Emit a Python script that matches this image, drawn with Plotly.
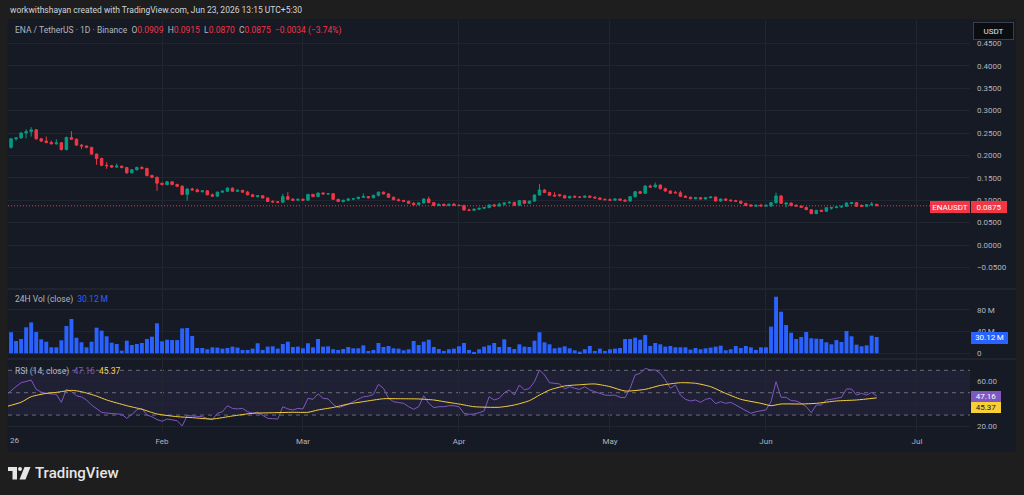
import plotly.graph_objects as go
import pandas as pd

# ---------------- data ----------------
opens = [0.197,0.218,0.237,0.239,0.250,0.253,0.257,0.237,0.232,0.229,
         0.226,0.228,0.213,0.240,0.236,0.223,0.221,0.218,0.203,0.193,
         0.178,0.177,0.174,0.176,0.173,0.161,0.168,0.173,0.171,0.155,
         0.151,0.138,0.135,0.141,0.135,0.131,0.113,0.125,0.123,0.119,
         0.121,0.112,0.109,0.118,0.120,0.127,0.120,0.122,0.118,0.112,
         0.108,0.110,0.105,0.097,0.096,0.0955,0.108,0.102,0.100,0.102,
         0.100,0.113,0.108,0.116,0.114,0.1145,0.102,0.097,0.100,0.1025,
         0.1035,0.1065,0.108,0.1055,0.111,0.118,0.114,0.1065,0.101,0.099,
         0.0975,0.093,0.090,0.094,0.1027,0.0945,0.088,0.091,0.088,0.091,
         0.0885,0.088,0.078,0.0775,0.080,0.082,0.0835,0.0895,0.087,0.091,
         0.094,0.095,0.0886,0.099,0.093,0.098,0.1116,0.1228,0.117,0.111,
         0.1125,0.110,0.105,0.1085,0.107,0.1065,0.109,0.1065,0.105,0.102,
         0.101,0.100,0.1027,0.100,0.098,0.108,0.119,0.1155,0.1317,0.1295,
         0.134,0.1257,0.1205,0.1175,0.1165,0.1087,0.1065,0.1034,0.1056,0.1027,
         0.1056,0.1071,0.0982,0.1027,0.1000,0.0988,0.0978,0.093,0.0895,0.0866,
         0.0886,0.0870,0.0872,0.0945,0.1094,0.0915,0.0935,0.0885,0.087,0.084,
         0.0788,0.070,0.0774,0.0752,0.0820,0.0838,0.0848,0.0864,0.0928,0.0945,
         0.0880,0.0865,0.0895,0.0909]
highs = [0.221,0.239,0.241,0.252,0.258,0.263,0.259,0.239,0.242,0.233,
         0.236,0.230,0.242,0.254,0.238,0.225,0.222,0.219,0.204,0.195,
         0.185,0.179,0.182,0.177,0.174,0.169,0.175,0.176,0.172,0.157,
         0.153,0.139,0.143,0.142,0.137,0.134,0.127,0.128,0.126,0.122,
         0.122,0.115,0.119,0.122,0.129,0.128,0.124,0.123,0.121,0.114,
         0.111,0.111,0.106,0.100,0.098,0.114,0.118,0.105,0.103,0.104,
         0.114,0.114,0.117,0.118,0.116,0.116,0.103,0.101,0.105,0.105,
         0.108,0.115,0.109,0.112,0.119,0.119,0.116,0.108,0.104,0.101,
         0.099,0.096,0.095,0.104,0.108,0.096,0.092,0.092,0.092,0.094,
         0.091,0.090,0.081,0.081,0.083,0.085,0.090,0.092,0.0945,0.095,
         0.098,0.097,0.100,0.100,0.099,0.113,0.136,0.125,0.119,0.118,
         0.114,0.112,0.110,0.111,0.109,0.110,0.111,0.109,0.106,0.104,
         0.104,0.104,0.104,0.103,0.109,0.120,0.121,0.133,0.135,0.1395,
         0.135,0.128,0.122,0.121,0.121,0.111,0.108,0.107,0.107,0.107,
         0.1094,0.108,0.104,0.104,0.102,0.101,0.099,0.094,0.091,0.090,
         0.092,0.090,0.096,0.1168,0.112,0.095,0.095,0.091,0.088,0.085,
         0.080,0.078,0.079,0.084,0.084,0.086,0.088,0.095,0.096,0.096,
         0.091,0.091,0.096,0.0915]
lows = [0.194,0.215,0.233,0.237,0.238,0.242,0.235,0.230,0.227,0.224,
        0.224,0.211,0.211,0.234,0.221,0.214,0.216,0.201,0.179,0.176,
        0.170,0.172,0.172,0.171,0.159,0.160,0.166,0.169,0.153,0.149,
        0.121,0.133,0.133,0.133,0.129,0.111,0.099,0.122,0.118,0.117,
        0.111,0.108,0.108,0.117,0.118,0.119,0.118,0.117,0.111,0.107,
        0.106,0.104,0.096,0.095,0.094,0.095,0.101,0.099,0.099,0.099,
        0.099,0.107,0.107,0.113,0.112,0.101,0.096,0.095,0.098,0.100,
        0.102,0.105,0.104,0.104,0.108,0.113,0.105,0.100,0.098,0.097,
        0.092,0.089,0.089,0.092,0.094,0.087,0.087,0.087,0.087,0.088,
        0.087,0.077,0.076,0.076,0.078,0.080,0.082,0.086,0.086,0.088,
        0.092,0.088,0.088,0.092,0.092,0.097,0.110,0.116,0.110,0.108,
        0.108,0.104,0.104,0.106,0.105,0.105,0.105,0.104,0.101,0.100,
        0.099,0.099,0.099,0.097,0.097,0.106,0.114,0.114,0.128,0.128,
        0.124,0.119,0.114,0.115,0.107,0.105,0.102,0.102,0.102,0.102,
        0.104,0.097,0.097,0.099,0.097,0.097,0.092,0.087,0.086,0.085,
        0.086,0.085,0.085,0.092,0.092,0.084,0.087,0.086,0.083,0.078,
        0.069,0.069,0.074,0.074,0.079,0.082,0.083,0.085,0.091,0.086,
        0.085,0.085,0.087,0.0870]
closes = [0.218,0.237,0.239,0.250,0.253,0.257,0.237,0.232,0.229,0.226,
          0.228,0.213,0.240,0.236,0.223,0.221,0.218,0.203,0.193,0.178,
          0.177,0.174,0.176,0.173,0.161,0.168,0.173,0.171,0.155,0.151,
          0.138,0.135,0.141,0.135,0.131,0.113,0.125,0.123,0.119,0.121,
          0.112,0.109,0.118,0.120,0.127,0.120,0.122,0.118,0.112,0.108,
          0.110,0.105,0.097,0.096,0.0955,0.108,0.102,0.100,0.102,0.100,
          0.113,0.108,0.116,0.114,0.1145,0.102,0.097,0.100,0.1025,0.1035,
          0.1065,0.108,0.1055,0.111,0.118,0.114,0.1065,0.101,0.099,0.0975,
          0.093,0.090,0.094,0.1027,0.0945,0.088,0.091,0.088,0.091,0.0885,
          0.088,0.078,0.0775,0.080,0.082,0.0835,0.0895,0.087,0.091,0.094,
          0.095,0.0886,0.099,0.093,0.098,0.1116,0.1228,0.117,0.111,0.1095,
          0.110,0.105,0.1085,0.107,0.1065,0.109,0.1065,0.105,0.102,0.101,
          0.100,0.1027,0.100,0.098,0.108,0.119,0.1155,0.1317,0.1295,0.134,
          0.1257,0.1205,0.1154,0.1165,0.1087,0.1065,0.1034,0.1056,0.1027,0.1056,
          0.1071,0.0982,0.1027,0.1000,0.0988,0.0978,0.093,0.0878,0.087,0.0886,
          0.0870,0.0886,0.0945,0.1094,0.093,0.0935,0.0878,0.087,0.084,0.0788,
          0.070,0.0774,0.0752,0.0833,0.0838,0.0848,0.0864,0.0938,0.0945,0.0864,
          0.0865,0.090,0.0909,0.0875]
volume_m = [11,38.8,22.7,26.4,48,57,39.3,25.8,21.4,11,
            11,24,50.4,63.3,28.8,20.3,11,21.4,47.3,41.8,
            31.4,19.6,17.2,4.8,23.3,15.3,17.2,19,26.4,30.7,
            55.4,22.1,25.1,24.4,24.4,46,46.7,32,9.8,9.8,
            7.4,11,10.5,8.6,9.8,12.3,10.5,6.2,6.2,8.6,
            18.5,6.2,12.3,12.9,8.6,17.2,21.4,11.7,12.3,9.2,
            18.5,11,26.4,12.3,12.9,7.6,6.2,7.9,11.6,9.2,
            9.2,14.7,4.3,6.2,19,11.6,13.5,9.2,8.6,5.5,
            7.4,22.7,15.3,21.4,25.1,11.6,7.9,4.3,7.4,8.6,
            12.9,19,6.2,2.5,7.4,12.3,14.7,19,11.6,25.8,
            11.6,7.9,16.6,12.3,11.6,23.3,38.8,20.3,16.6,9.2,
            10.5,12.9,9.2,5.5,3.1,7.4,13.5,4.3,8.6,4.3,
            7.4,8.6,9.8,26.4,26.4,28.9,25.1,33.7,13.5,19,
            16.6,12.3,13.5,11,11,11,6.8,9.8,7.4,9.2,
            10.5,12.3,14.1,5.5,7.4,13.5,9.8,13.5,11,6.2,
            11,11,49.2,104.5,76.8,52.2,38,26.4,30.1,39.3,
            27.7,27,26.4,20.3,16.6,24.4,20.9,41.2,31.4,16,
            12.9,14.7,32.6,30.12]
rsi = [47.9,52,55.5,58.9,60,61.3,53,50.5,49.4,48.8,
       48.5,41.4,53,51,47.3,46.2,43.5,39,35.8,32.5,
       31.8,31.6,31,30.7,27.1,30.5,34.8,36,30,28.6,
       26,24.5,26.5,25.8,25,20.3,29.5,29.2,28.6,28.6,
       27,25.8,31.6,33,38.4,36,35.5,36,33,31.6,
       32.5,30.1,27.1,26.8,26.5,37.5,35.5,34.6,36,35.5,
       45,44.1,49,45,44.5,39.6,36.6,38,39.6,42,
       44,46.4,46.8,48.5,57.5,53.9,45,42,41.2,40.5,
       37.5,35.2,37.5,47.3,40.5,36.6,37.5,37.5,38.4,38.4,
       37.5,31.6,30.7,31,32.1,33.7,46.4,43.5,45,50,
       52.4,47.9,56.9,52.4,53.9,59.8,70.3,65.8,58.9,58.4,
       57.8,53.3,55.4,53.9,53,55.4,52.4,50.9,49.4,47.9,
       47.6,47.9,45.9,45.5,53.9,65.8,67.3,71.8,70.3,70.3,
       67.3,61.3,53.9,56.9,47.9,44.1,42.6,43.5,41.4,44.1,
       45,40.2,42,40.5,41.4,39,36,33.9,31.6,33,
       33.7,34.6,42,59.8,45.9,45.9,42.9,42.6,40.5,37.5,
       32.1,39,39,43.5,44.1,45,45.9,53.3,53.3,47.9,
       49.4,47.9,50.3,47.16]
rsi_ma_day = [0,3,5,8,10,13,15,18,20,24,27,30,34,37,41,45,49,53,57,60,62,65,68,71,75,78,
              82,85,87,90,93,98,101,104,106,108,111,114,117,120,123,127,130,134,137,140,
              143,146,150,152,154,158,161,165,169,173]
rsi_ma_val = [37.5,41.5,46.4,49.4,50.3,52.1,50.9,47,43.5,38.4,35.2,31,28.6,27.7,26.5,29.2,
              31.6,32.1,32.5,32.5,34.6,36.8,39.9,42,44.6,44.6,44.4,43.5,42,39.9,37.5,37,
              39,42.9,47.9,52.4,56,57.1,57.8,55.4,51.5,53,56.5,58.9,58.4,55.4,49.4,44.1,
              40.5,38.4,39.9,39.9,40.5,42.6,43.5,45.37]
price_ticks = [-0.05,0,0.05,0.10,0.15,0.20,0.25,0.30,0.35,0.40,0.45]
vol_ticks = [0, 40, 80]
vol_ticktext = ["0", "40\u2009M", "80\u2009M"]
rsi_ticks = [20, 40, 60]
rsi_ticktext = ["20.00", "", "60.00"]   # 40.00 is hidden behind the value boxes
month_ticks = ["2026-02-01","2026-03-01","2026-04-01","2026-05-01","2026-06-01","2026-07-01"]
month_text = ["Feb","Mar","Apr","May","Jun","Jul"]
last_price = 0.0875

start = pd.Timestamp("2026-01-01")
dates = pd.date_range(start, periods=len(closes), freq="D")
ma_dates = [start + pd.Timedelta(days=d) for d in rsi_ma_day]

# ---------------- style ----------------
OUTER = "#1e1e1e"
PANEL = "#161a25"
GRID = "#21252f"
TXT = "#b2b5be"
GREEN = "#089981"
RED = "#f23645"
BLUE = "#2962ff"
PURPLE = "#7e57c2"
YELLOW = "#f7d038"
FONT = "Roboto, 'Noto Sans', sans-serif"

L, R, T, B = 8, 970, 20, 432
W, H = R - L, B - T
def px(x): return (x - L) / W
def py(y): return (B - y) / H

fig = go.Figure()
fig.add_trace(go.Candlestick(
    x=dates, open=opens, high=highs, low=lows, close=closes,
    increasing=dict(line=dict(color=GREEN, width=1), fillcolor=GREEN),
    decreasing=dict(line=dict(color=RED, width=1), fillcolor=RED),
    whiskerwidth=0, xaxis="x", yaxis="y", showlegend=False, hoverinfo="skip"))
fig.add_trace(go.Bar(x=dates, y=volume_m, marker=dict(color=BLUE, line=dict(width=0)),
                     xaxis="x2", yaxis="y2", showlegend=False, hoverinfo="skip"))
fig.add_trace(go.Scatter(x=dates, y=rsi, mode="lines", line=dict(color=PURPLE, width=1),
                         xaxis="x3", yaxis="y3", showlegend=False, hoverinfo="skip"))
fig.add_trace(go.Scatter(x=ma_dates, y=rsi_ma_val, mode="lines",
                         line=dict(color=YELLOW, width=1, shape="spline", smoothing=0.6),
                         xaxis="x3", yaxis="y3", showlegend=False, hoverinfo="skip"))

xr = ["2026-01-01 09:32", "2026-07-11 12:58"]
xcommon = dict(range=xr, type="date", tickvals=month_ticks, ticktext=month_text,
               showgrid=True, gridcolor=GRID, gridwidth=1, zeroline=False, showline=False,
               ticks="", tickfont=dict(family=FONT, size=8, color=TXT), fixedrange=True)
ycommon = dict(side="right", showgrid=True, gridcolor=GRID, zeroline=False, showline=False,
               ticks="", ticklabelstandoff=6, tickfont=dict(family=FONT, size=8, color=TXT),
               fixedrange=True)

fig.update_layout(
    width=1024, height=495, margin=dict(l=L, r=1024 - R, t=T, b=495 - B),
    paper_bgcolor=OUTER, plot_bgcolor="rgba(0,0,0,0)", bargap=0.22, showlegend=False,
    xaxis=dict(xcommon, domain=[0, 1], anchor="y", showticklabels=False,
               rangeslider=dict(visible=False)),
    xaxis2=dict(xcommon, domain=[0, 1], anchor="y2", showticklabels=False, matches="x"),
    xaxis3=dict(xcommon, domain=[0, 1], anchor="y3", showticklabels=True, matches="x",
                ticklabelstandoff=3),
    yaxis=dict(ycommon, domain=[py(288), 1], range=[(245 - 288) / 448, (245 - 20) / 448],
               tickvals=price_ticks, tickformat=".4f"),
    yaxis2=dict(ycommon, domain=[py(358), py(290)], range=[-8.7, 116.9],
                tickvals=vol_ticks, ticktext=vol_ticktext),
    yaxis3=dict(ycommon, domain=[0, py(360)], range=[14.9, 79.2],
                tickvals=rsi_ticks, ticktext=rsi_ticktext),
)

shapes = [
    dict(type="rect", xref="paper", yref="paper", x0=px(7.5), x1=px(1016), y0=py(452), y1=py(19),
         fillcolor=PANEL, line=dict(width=0), layer="below"),
    dict(type="rect", xref="paper", yref="y3", x0=0, x1=1, y0=30, y1=70,
         fillcolor="rgba(126,87,194,0.10)", line=dict(width=0), layer="below"),
]
for lvl in (70, 50, 30):
    shapes.append(dict(type="line", xref="paper", yref="y3", x0=0, x1=1, y0=lvl, y1=lvl,
                       line=dict(color="#6a6d78", width=1, dash="4px,4px"), layer="below"))
shapes.append(dict(type="line", xref="paper", yref="y", x0=0, x1=1, y0=last_price, y1=last_price,
                   line=dict(color=RED, width=1, dash="1px,2px"), layer="below"))
for ys in (289, 359):
    shapes.append(dict(type="line", xref="paper", yref="paper", x0=px(7.5), x1=px(1016),
                       y0=py(ys), y1=py(ys), line=dict(color="#2a2e39", width=1), layer="above"))
# TradingView logo mark
def path(pts):
    return "M " + " L ".join(f"{px(a)},{py(b)}" for a, b in pts) + " Z"
LOGO = "#e6e6e6"
shapes.append(dict(type="path", xref="paper", yref="paper",
                   path=path([(8, 467), (17, 467), (17, 479.5), (12.5, 479.5), (12.5, 471), (8, 471)]),
                   fillcolor=LOGO, line=dict(width=0)))
shapes.append(dict(type="circle", xref="paper", yref="paper", x0=px(18), x1=px(22),
                   y0=py(471), y1=py(467), fillcolor=LOGO, line=dict(width=0)))
shapes.append(dict(type="path", xref="paper", yref="paper",
                   path=path([(24.5, 467), (30.5, 467), (25.5, 479.5), (19.5, 479.5)]),
                   fillcolor=LOGO, line=dict(width=0)))
fig.update_layout(shapes=shapes)

ann = []
def text_at(x, y, text, size=8.5, color=TXT, anchor="left", weight=None):
    f = dict(family=FONT, size=size, color=color)
    if weight:
        f["weight"] = weight
    ann.append(dict(xref="paper", yref="paper", x=px(x), y=py(y), text=text, showarrow=False,
                    xanchor=anchor, yanchor="middle", font=f))
def box(x0, y0, x1, y1, text, bg, fc, border=None, size=8):
    ann.append(dict(xref="paper", yref="paper", x=px(x0), y=py(y0), xanchor="left", yanchor="top",
                    width=x1 - x0 - 2, height=y1 - y0 - 2, text=text, showarrow=False,
                    bgcolor=bg, bordercolor=border or bg, borderwidth=1, borderpad=0,
                    align="center", valign="middle", font=dict(family=FONT, size=size, color=fc)))

text_at(8, 10, "workwithshayan created with TradingView.com, Jun 23, 2026 13:15 UTC+5:30",
        size=8.5, color="#d1d4dc")
rs = lambda s: f"<span style='color:{RED}'>{s}</span>"
text_at(13, 31, "ENA / TetherUS · 1D · Binance&nbsp;&nbsp;O" + rs("0.0909") + "&nbsp;&nbsp;H" + rs("0.0915")
        + "&nbsp;&nbsp;L" + rs("0.0870") + "&nbsp;&nbsp;C" + rs("0.0875") + "&nbsp;&nbsp;"
        + rs("\u22120.0034 (\u22123.74%)"), size=8.5)
text_at(13, 300, f"24H Vol (close)&nbsp;&nbsp;<span style='color:{BLUE}'>30.12\u2009M</span>", size=8.5)
text_at(13, 371, f"RSI (14, close)&nbsp;&nbsp;<span style='color:{PURPLE}'>47.16</span>"
        f"&nbsp;&nbsp;<span style='color:{YELLOW}'>45.37</span>", size=8.5)
text_at(8, 440, "26", size=8)
text_at(33, 473, "TradingView", size=15, color=LOGO, weight=500)

box(973, 22, 1014, 40, "USDT", "#0c0d10", "#e0e3eb", border="#3a3e48", size=8)
box(930, 201, 970, 213, "ENAUSDT", RED, "#ffffff")
box(971, 201, 1007, 213, "0.0875", RED, "#ffffff")
box(971, 331.5, 1008, 343, "30.12\u2009M", BLUE, "#ffffff")
box(971, 390.5, 1001, 401, "47.16", PURPLE, "#ffffff")
box(971, 401.5, 1001, 412.5, "45.37", YELLOW, "#131722")
fig.update_layout(annotations=ann)

fig.write_html("out.html")
